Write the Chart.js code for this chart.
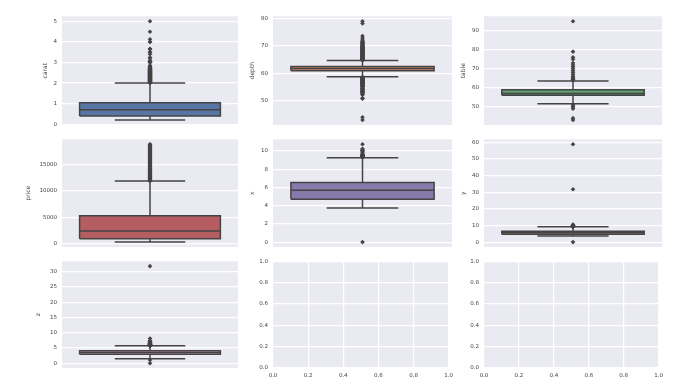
<!DOCTYPE html>
<html><head><meta charset="utf-8">
<script src="https://cdn.jsdelivr.net/npm/chart.js@4.4.1/dist/chart.umd.min.js"></script>
<style>
html,body{margin:0;padding:0;background:#fff;width:677px;height:381px;overflow:hidden;position:relative;}
canvas{position:absolute;}
</style></head><body>
<script>
// ---- data ----
const variables = ['carat','depth','table','price','x','y','z'];
const q1Values     = [0.40, 61.0, 56.0,  950, 4.71, 4.72, 2.91];
const medianValues = [0.70, 61.8, 57.0, 2401, 5.70, 5.71, 3.53];
const q3Values     = [1.04, 62.5, 59.0, 5324, 6.54, 6.54, 4.04];
const lowerWhiskers= [0.20, 58.8, 51.6,  326, 3.73, 3.68, 1.41];
const upperWhiskers= [2.00, 64.7, 63.5,11883, 9.26, 9.26, 5.73];

const caratOutliers = [2.01,2.02,2.03,2.04,2.05,2.06,2.07,2.08,2.09,2.10,2.11,2.12,2.13,2.14,2.15,2.16,2.17,2.18,2.19,2.20,2.21,2.22,2.23,2.24,2.25,2.26,2.27,2.28,2.29,2.30,2.31,2.32,2.33,2.34,2.35,2.36,2.37,2.38,2.39,2.40,2.41,2.42,2.43,2.44,2.45,2.46,2.47,2.48,2.49,2.50,2.51,2.52,2.53,2.54,2.55,2.56,2.57,2.58,2.59,2.60,2.61,2.63,2.64,2.65,2.66,2.67,2.68,2.70,2.71,2.72,2.74,2.75,2.77,2.80,2.85,3.00,3.01,3.02,3.04,3.05,3.11,3.22,3.24,3.40,3.50,3.51,3.65,3.67,4.00,4.01,4.13,4.50,5.01];
const depthOutliers = [43.0,44.0,50.8,51.0,52.2,52.3,52.7,53.0,53.1,53.2,53.3,53.4,53.5,53.6,53.8,54.0,54.2,54.3,54.4,54.6,54.7,55.0,55.1,55.2,55.3,55.4,55.5,55.6,55.8,55.9,56.0,56.1,56.2,56.3,56.4,56.5,56.6,56.7,56.8,56.9,57.0,57.1,57.2,57.3,57.4,57.5,57.6,57.7,57.8,57.9,58.0,58.1,58.2,58.3,58.4,58.5,58.6,58.7,64.8,64.9,65.0,65.1,65.2,65.3,65.4,65.5,65.6,65.7,65.8,65.9,66.0,66.1,66.2,66.3,66.4,66.5,66.6,66.7,66.8,66.9,67.0,67.1,67.2,67.3,67.4,67.5,67.6,67.7,67.8,67.9,68.0,68.1,68.2,68.3,68.4,68.5,68.6,68.7,68.8,69.0,69.1,69.2,69.3,69.4,69.5,69.6,69.7,69.8,70.0,70.1,70.2,70.5,70.6,70.8,71.0,71.2,71.3,71.6,71.8,72.2,72.9,73.6,78.2,79.0];
const tableOutliers = [43,44,49,50,50.1,51,64,64.3,64.5,65,65.4,66,67,68,69,70,71,72,73,75,76,79,95];
const priceOutliers = [11886,11950,12020,12105,12210,12300,12412,12500,12620,12745,12850,12960,13080,13190,13310,13420,13550,13680,13790,13910,14050,14180,14300,14420,14560,14690,14810,14950,15080,15210,15340,15470,15600,15740,15870,16010,16140,16280,16410,16550,16690,16820,16960,17100,17230,17370,17510,17650,17790,17930,18070,18210,18350,18490,18630,18760,18823];
const xOutliers = [0,9.29,9.30,9.32,9.35,9.38,9.41,9.42,9.44,9.49,9.51,9.53,9.54,9.59,9.65,9.66,9.86,10.00,10.01,10.02,10.14,10.23,10.74];
const yOutliers = [0,9.30,9.31,9.35,9.38,9.42,9.46,9.48,9.59,9.63,9.81,9.85,9.94,10.10,10.16,10.54,31.8,58.9];
const zOutliers = [0,1.07,5.74,5.75,5.77,5.79,5.80,5.83,5.85,5.88,5.90,5.93,5.96,5.98,6.03,6.05,6.09,6.13,6.16,6.17,6.24,6.27,6.31,6.38,6.43,6.47,6.50,6.61,6.72,6.98,7.08,7.17,7.31,8.06,31.8];
const outlierLists = [caratOutliers,depthOutliers,tableOutliers,priceOutliers,xOutliers,yOutliers,zOutliers];

// tick labels
const caratTicks = [0,1,2,3,4,5];
const depthTicks = [50,60,70,80];
const tableTicks = [50,60,70,80,90];
const priceTicks = [0,5000,10000,15000];
const xTicks = [0,2,4,6,8,10];
const yTicks = [0,10,20,30,40,50,60];
const zTicks = [0,5,10,15,20,25,30];
const emptyTicks = [0.0,0.2,0.4,0.6,0.8,1.0];
const tickLists = [caratTicks,depthTicks,tableTicks,priceTicks,xTicks,yTicks,zTicks];

// ---- axis ranges & styling ----
const yAxisMin = [-0.04, 41.2, 40.4, -599, -0.537, -2.945, -1.59];
const yAxisMax = [ 5.25, 80.8, 97.6, 19748, 11.277, 61.845, 33.39];
const boxColors = ['#5875a4','#cc8963','#5f9e6e','#b55d60','#857aab','#8d7866','#d095bf'];
const lineGray = '#444444';
const colLeft = [62, 273, 484], colRight = [238, 452, 662];
const rowTop = [13, 136, 258], rowBottom = [125, 247, 368];
const labelGap = [17, 21, 21, 34, 21, 21, 24];
const PADL = 60, PADT = 5, PADR = 5, XH = 16;
const FONT = '"DejaVu Sans", sans-serif';

const bgPlugin = {id:'bg', beforeDraw(chart){
  const {ctx, chartArea:a} = chart;
  ctx.save(); ctx.fillStyle = '#EAEAF2';
  ctx.fillRect(a.left, a.top, a.right - a.left, a.bottom - a.top);
  ctx.restore();
}};

function makeCanvas(row, col){
  const c = document.createElement('canvas');
  const w = colRight[col] - colLeft[col] + PADL + PADR;
  const h = rowBottom[row] - rowTop[row] + PADT + XH;
  c.width = w; c.height = h;
  c.style.left = (colLeft[col] - PADL) + 'px';
  c.style.top = (rowTop[row] - PADT) + 'px';
  c.style.width = w + 'px'; c.style.height = h + 'px';
  document.body.appendChild(c);
  return c;
}

function lineDs(points, order, extra){
  return Object.assign({type:'scatter', data: points, showLine:true, pointRadius:0,
    borderColor: lineGray, borderWidth:1.5, order}, extra||{});
}

function boxChart(i, row, col){
  const q1=q1Values[i], q3=q3Values[i], med=medianValues[i], lo=lowerWhiskers[i], hi=upperWhiskers[i];
  const ticks = tickLists[i];
  const datasets = [
    lineDs([{x:-0.4,y:q1},{x:0.4,y:q1},{x:0.4,y:q3},{x:-0.4,y:q3},{x:-0.4,y:q1}], 5,
      {fill:'shape', backgroundColor: boxColors[i]}),
    lineDs([{x:0,y:q3},{x:0,y:hi}], 4),
    lineDs([{x:-0.2,y:hi},{x:0.2,y:hi}], 4),
    lineDs([{x:0,y:q1},{x:0,y:lo}], 4),
    lineDs([{x:-0.2,y:lo},{x:0.2,y:lo}], 4),
    lineDs([{x:-0.4,y:med},{x:0.4,y:med}], 3),
    {type:'scatter', data: outlierLists[i].map(v=>({x:0,y:v})), pointStyle:'rectRot',
      pointRadius:2.3, backgroundColor: lineGray, borderWidth:0, order:2}
  ];
  new Chart(makeCanvas(row,col), {
    type:'scatter', data:{datasets}, plugins:[bgPlugin],
    options:{
      responsive:false, animation:false, events:[],
      layout:{padding:{left:0, top:PADT, right:PADR, bottom:0}},
      plugins:{legend:{display:false}, tooltip:{enabled:false}},
      scales:{
        x:{type:'linear', min:-0.5, max:0.5, border:{display:false},
           grid:{display:false, drawTicks:false}, ticks:{display:false},
           afterFit(s){ s.height = XH; }},
        y:{type:'linear', min:yAxisMin[i], max:yAxisMax[i], border:{display:false},
           grid:{color:'#ffffff', lineWidth:1.2, drawTicks:false},
           ticks:{padding:5, color:'#444', font:{family:FONT, size:5.5}, callback:v=>String(v)},
           afterBuildTicks(s){ s.ticks = ticks.map(v=>({value:v})); },
           title:{display:true, text: variables[i], color:'#444', font:{family:FONT, size:6},
             padding:{top: PADL - labelGap[i] - 3.6, bottom:0}},
           afterFit(s){ s.width = PADL; }}
      }
    }
  });
}

function emptyChart(row, col){
  new Chart(makeCanvas(row,col), {
    type:'scatter', data:{datasets:[]}, plugins:[bgPlugin],
    options:{
      responsive:false, animation:false, events:[],
      layout:{padding:{left:0, top:PADT, right:PADR, bottom:0}},
      plugins:{legend:{display:false}, tooltip:{enabled:false}},
      scales:{
        x:{type:'linear', min:0, max:1, border:{display:false},
           grid:{color:'#ffffff', lineWidth:1.2, drawTicks:false},
           ticks:{padding:4, color:'#444', font:{family:FONT, size:5.5}, maxRotation:0, callback:v=>v.toFixed(1)},
           afterBuildTicks(s){ s.ticks = emptyTicks.map(v=>({value:v})); },
           afterFit(s){ s.height = XH; }},
        y:{type:'linear', min:0, max:1, border:{display:false},
           grid:{color:'#ffffff', lineWidth:1.2, drawTicks:false},
           ticks:{padding:5, color:'#444', font:{family:FONT, size:5.5}, callback:v=>v.toFixed(1)},
           afterBuildTicks(s){ s.ticks = emptyTicks.map(v=>({value:v})); },
           afterFit(s){ s.width = PADL; }}
      }
    }
  });
}

for (let i = 0; i < 7; i++) boxChart(i, Math.floor(i/3), i%3);
emptyChart(2,1);
emptyChart(2,2);
</script>
</body></html>
